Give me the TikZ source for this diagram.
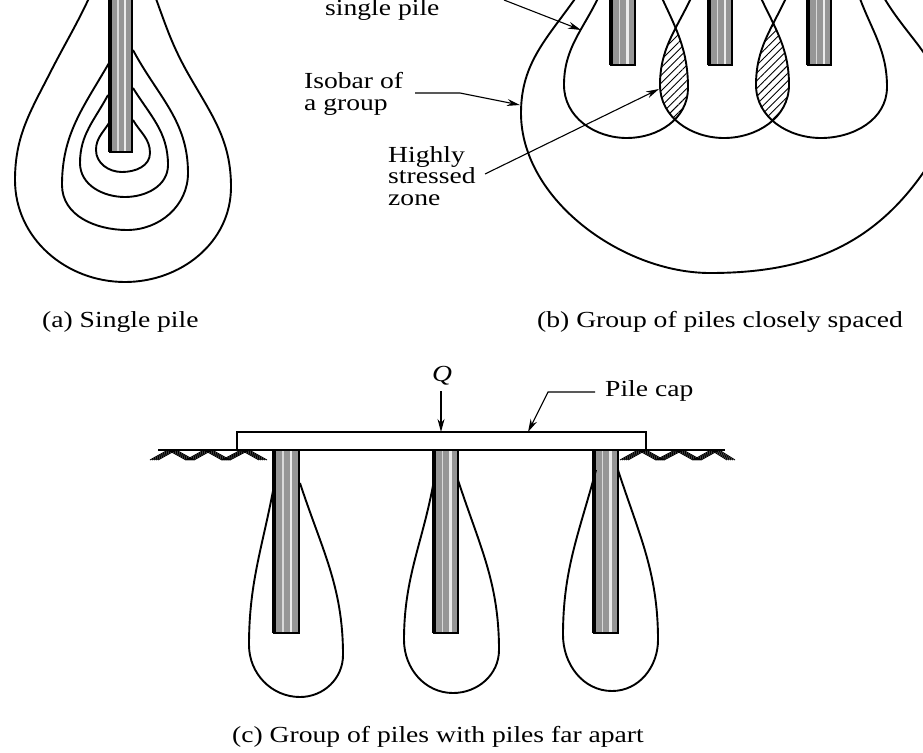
\documentclass[tikz,border=0pt]{standalone}
\usepackage{fontspec}
\setmainfont[FakeStretch=1.2]{Liberation Serif}
\usetikzlibrary{arrows.meta,patterns.meta}

\definecolor{pileGray}{RGB}{150,150,150}

\tikzset{
  isobar/.style={line width=1.9pt},
  leader/.style={line width=1.1pt,-{Stealth[length=13pt,width=7pt]}},
  label/.style={font=\fontsize{23}{21.5}\selectfont,inner sep=0pt,align=left,anchor=west},
  groundmark/.style={line width=0.9pt},
  hatching/.style={pattern={Lines[angle=45,distance=5.5pt,line width=0.9pt]}}
}

% pile: left x, right x, top y, bottom y
\newcommand{\pileshaft}[4]{%
  \fill[pileGray] (#1,#3) rectangle (#2,#4);
  \fill[white!85!gray] ({#1+0.62*(#2-#1)},#3) rectangle ({#1+0.72*(#2-#1)},#4);
  \fill[white!70!gray] ({#1+0.34*(#2-#1)},#3) rectangle ({#1+0.40*(#2-#1)},#4);
  \draw[line width=3.4pt] (#1+1,#3) -- (#1+1,#4);
  \draw[line width=2.4pt] (#2-1,#3) -- (#2-1,#4);
  \draw[line width=1.8pt] (#1,#4) -- (#2,#4);
}
% isobars of the close group
\newcommand{\pathL}{(599,-4) to[out=-115,in=90] (564,85) to[out=-90,in=180] (627,138) to[out=0,in=-90] (688,88) to[out=90,in=-65] (661,-4)}
\newcommand{\pathM}{(692,-4) to[out=-115,in=90] (660,85) to[out=-90,in=180] (724,138) to[out=0,in=-90] (789,85) to[out=90,in=-65] (760,-4)}
\newcommand{\pathR}{(787,-4) to[out=-115,in=90] (756,85) to[out=-90,in=180] (821,138) to[out=0,in=-90] (887,87) to[out=90,in=-70] (859,-4)}

\begin{document}
\begin{tikzpicture}[x=1pt,y=-1pt]
  \useasboundingbox (0,0) rectangle (923,752);
  \clip (0,0) rectangle (923,752);

  % (a) single pile
  \pileshaft{109}{133}{-5}{152}
  \draw[isobar] (90,-4) to[out=-115,in=63] (50,73) to[out=-117,in=90] (15,180) to[out=-90,in=180] (125,282)
    to[out=0,in=-90] (231,187) to[out=90,in=-60] (190,77) to[out=120,in=-70] (155,-4);
  \draw[isobar] (109,63) to[out=-120,in=90] (62,185) to[out=-90,in=180] (127,230)
    to[out=0,in=-90] (188,173) to[out=90,in=-62] (133,50);
  \draw[isobar] (108,95) to[out=-118,in=90] (80,163) to[out=-90,in=180] (125,197)
    to[out=0,in=-90] (168,165) to[out=90,in=-58] (133,88);
  \draw[isobar] (109,123) to[out=-122,in=90] (96,150) to[out=-90,in=180] (122,172)
    to[out=0,in=-90] (150,153) to[out=90,in=-60] (133,120);
  \node[label] (capA) at (42,322) {(a) Single pile};

  % (b) piles closely spaced
  \pileshaft{610}{636}{-5}{65}
  \pileshaft{708}{733}{-5}{65}
  \pileshaft{807}{832}{-5}{65}
  % highly stressed zones
  \begin{scope}
    \clip \pathL -- cycle;
    \fill[hatching] \pathM -- cycle;
  \end{scope}
  \begin{scope}
    \clip \pathM -- cycle;
    \fill[hatching] \pathR -- cycle;
  \end{scope}
  \draw[isobar] \pathL;
  \draw[isobar] \pathM;
  \draw[isobar] \pathR;
  \draw[isobar] (577,-4) to[out=-125,in=90] (521,113) to[out=-90,in=180,looseness=0.9] (710,273)
    to[out=0,in=-125] (923,173) to[out=55,in=-90] (945,115) to[out=90,in=-60] (883,-4);
  \node[label] (lblSingle) at (325,10) {single pile};
  \node[label] (lblGroup) at (304,94) {Isobar of\\a group};
  \node[label] (lblZone) at (388,176) {Highly\\stressed\\zone};
  \node[label] (capB) at (537,322) {(b) Group of piles closely spaced};
  \coordinate (sA) at (504,0);
  \coordinate (sB) at (581,30);
  \coordinate (gA) at (415,93);
  \coordinate (gB) at (460,93);
  \coordinate (gC) at (520,105);
  \coordinate (zA) at (485,174);
  \coordinate (zB) at (659,89);
  \draw[leader] (sA) -- (sB);
  \draw[leader] (gA) -- (gB) -- (gC);
  \draw[leader] (zA) -- (zB);

  % (c) piles far apart
  \pileshaft{273}{300}{450}{633}
  \pileshaft{433}{459}{450}{633}
  \pileshaft{593}{619}{450}{633}
  \draw[isobar] (275,480) to[out=-100,in=90] (249,645) to[out=-90,in=180] (300,697)
    to[out=0,in=-90] (343,655) to[out=90,in=-72] (300,483);
  \draw[isobar] (434,480) to[out=-100,in=90] (404,640) to[out=-90,in=180] (453,693)
    to[out=0,in=-90] (499,650) to[out=90,in=-72] (458,480);
  \draw[isobar] (596,470) to[out=-105,in=90] (563,635) to[out=-90,in=180] (612,691)
    to[out=0,in=-90] (658,640) to[out=90,in=-72] (618,470);
  % ground either side of the cap
  \draw[groundmark,line width=1.6pt] (158,450) -- (725,450);
  \foreach \d in {-4,-2,0,2,4} {
    \draw[groundmark] (154+\d,460) -- (172+\d,450) -- (190+\d,460) -- (208+\d,450) -- (226+\d,460) -- (245+\d,450) -- (263+\d,460);
    \draw[groundmark] (624+\d,460) -- (642+\d,450) -- (660+\d,460) -- (679+\d,450) -- (697+\d,460) -- (715+\d,450) -- (731+\d,460);
  }
  \draw[line width=1.9pt,fill=white] (237,450) -- (237,432) -- (646,432) -- (646,450) -- cycle;
  \node[label,anchor=center,font=\fontsize{23}{21.5}\selectfont\itshape] (loadQ) at (442,376) {Q};
  \node[label] (lblCap) at (605,391) {Pile cap};
  \node[label] (capC) at (232,737) {(c) Group of piles with piles far apart};
  \coordinate (qA) at (441,391);
  \coordinate (qB) at (441,432);
  \coordinate (cA) at (595,392);
  \coordinate (cB) at (548,392);
  \coordinate (cC) at (528,432);
  \draw[leader] (qA) -- (qB);
  \draw[leader] (cA) -- (cB) -- (cC);
\end{tikzpicture}
\end{document}
